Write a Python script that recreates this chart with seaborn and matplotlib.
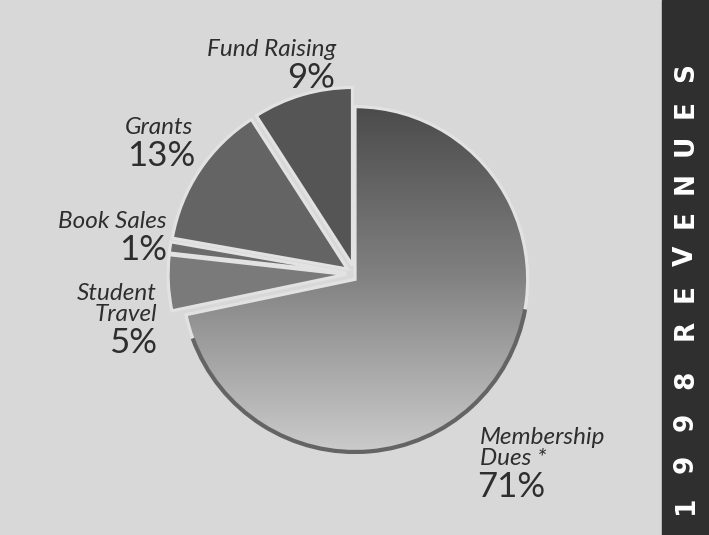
import numpy as np
import matplotlib.pyplot as plt
import seaborn as sns
from matplotlib.colors import LinearSegmentedColormap
from matplotlib.patches import Rectangle, Arc

# ---- data ----
categories = ["Membership Dues", "Student Travel", "Book Sales", "Grants", "Fund Raising"]
shares = [71, 5, 1, 13, 9]
name_lines = ["Membership\nDues *", "Student\nTravel", "Book Sales", "Grants", "Fund Raising"]
pct_labels = [f"{v}%" for v in shares]
band_title = "1998 REVENUES"

# ---- style ----
sns.set_style("white")
plt.rcParams["font.family"] = ["Lato", "DejaVu Sans"]

bg = "#d8d8d8"
ink = "#2e2e2e"
slice_colors = ["#5a5a5a", "#7a7a7a", "#6c6c6c", "#646464", "#555555"]
explode = [0, 0.05, 0.05, 0.05, 0.05]

W, H = 709, 535
fig = plt.figure(figsize=(W / 100, H / 100), dpi=100)
fig.patch.set_facecolor(bg)

# pixel-coordinate overlay for texts and the side band
ax = fig.add_axes([0, 0, 1, 1])
ax.set_xlim(0, W)
ax.set_ylim(H, 0)
ax.axis("off")
ax.add_patch(Rectangle((662, 0), 47, H, color="#2f2f2f", zorder=1))

# pie axes (slightly taller than wide, like the print)
cx, cy, rx, ry = 355, 274, 178, 178
lim = 1.3
pax = fig.add_axes([(cx - lim * rx) / W, (H - cy - lim * ry) / H,
                    2 * lim * rx / W, 2 * lim * ry / H])
pax.patch.set_alpha(0)

wedges, _ = pax.pie(shares, startangle=90, counterclock=False, explode=explode,
                    colors=slice_colors,
                    wedgeprops=dict(edgecolor="#e2e2e2", linewidth=2.3))

# membership dues: vertical gradient dark -> light
dues = wedges[0]
dues.set_radius(0.97)
dues.set_center((0, -0.03))
dues.set_facecolor("none")
dues.set_zorder(3)
grad = np.linspace(0, 1, 256).reshape(-1, 1)
cmap = LinearSegmentedColormap.from_list("dues", ["#454545", "#808080", "#cfcfcf"])
im = pax.imshow(grad, extent=(-1.05, 1.05, -1.05, 1.05), origin="upper",
                cmap=cmap, aspect="auto", zorder=2)
im.set_clip_path(dues)
pax.add_patch(Arc((0, -0.03), 1.94, 1.94, theta1=200, theta2=350,
                  lw=3, color="#646464", zorder=4))

pax.set_xlim(-lim, lim)
pax.set_ylim(-lim, lim)
pax.set_aspect("auto")
pax.axis("off")

# ---- labels ----
name_kw = dict(fontsize=17.5, style="italic", color=ink, linespacing=1.0)
pct_kw = dict(fontsize=25, color=ink)

# Fund Raising
ax.text(336, 50, name_lines[4], ha="right", va="center", **name_kw)
ax.text(335, 78, pct_labels[4], ha="right", va="center", **pct_kw)
# Grants
ax.text(193, 128, name_lines[3], ha="right", va="center", **name_kw)
ax.text(195, 156, pct_labels[3], ha="right", va="center", **pct_kw)
# Book Sales
ax.text(167, 222, name_lines[2], ha="right", va="center", **name_kw)
ax.text(167, 250, pct_labels[2], ha="right", va="center", **pct_kw)
# Student Travel
ax.text(157, 304, name_lines[1], ha="right", va="center", multialignment="right", **name_kw)
ax.text(157, 343, pct_labels[1], ha="right", va="center", **pct_kw)
# Membership Dues
ax.text(480, 448, name_lines[0], ha="left", va="center", **name_kw)
ax.text(477, 487, pct_labels[0], ha="left", va="center", **pct_kw)

# side band title, one glyph at a time from the bottom up
chars = [c for c in band_title if c != " "]
ys = list(np.linspace(505, 380, 4)) + list(np.linspace(330, 72, 8))
for c, y in zip(chars, ys):
    ax.text(686, y, c, rotation=90, ha="center", va="center", color="white",
            fontsize=19, fontweight="heavy", family="DejaVu Sans", zorder=2)

fig.savefig("out.png", dpi=100, facecolor=bg)
